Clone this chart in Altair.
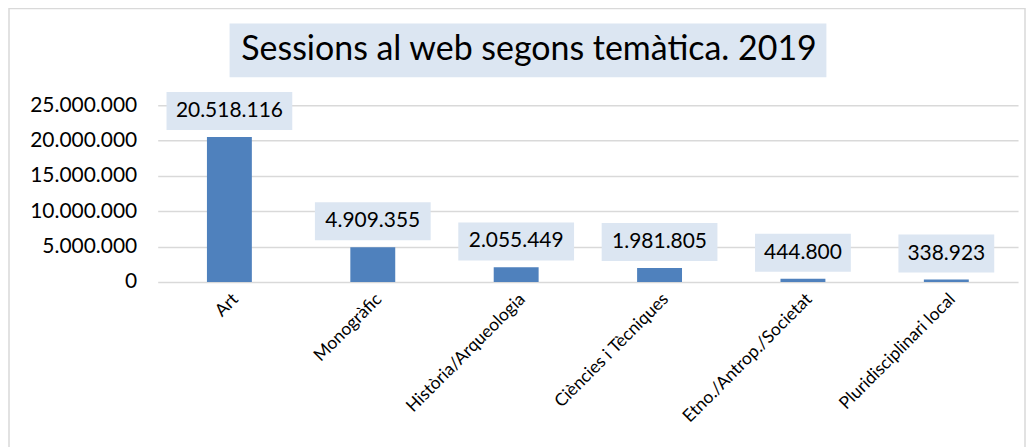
import altair as alt
import pandas as pd

categories = ["Art", "Monogràfic", "Història/Arqueologia", "Ciències i Tècniques",
              "Etno./Antrop./Societat", "Pluridisciplinari local"]
sessions = [20518116, 4909355, 2055449, 1981805, 444800, 338923]
y_ticks = [0, 5000000, 10000000, 15000000, 20000000, 25000000]
title_text = "Sessions al web segons temàtica. 2019"

df = pd.DataFrame({"cat": categories, "val": sessions})

FONT = "Lato"
BLUE = "#4F81BD"
BOXFILL = "#DCE6F2"

x_enc = alt.X("cat:N", sort=categories, title=None,
              scale=alt.Scale(paddingInner=0.6858, paddingOuter=0.3429),
              axis=alt.Axis(labelAngle=-45, labelFontSize=17.5, labelFont=FONT,
                            labelColor="#000000", ticks=False, domain=False,
                            grid=False, labelPadding=8, labelLimit=300))
y_enc = alt.Y("val:Q", title=None,
              scale=alt.Scale(domain=[0, 25000000], nice=False),
              axis=alt.Axis(values=y_ticks, format=",d", labelFontSize=21,
                            labelFont=FONT, labelColor="#000000", ticks=False,
                            domain=False, grid=True, gridColor="#D9D9D9",
                            gridWidth=1.5, labelPadding=21, labelOverlap=False))

base = alt.Chart(df)

bars = base.mark_bar(color=BLUE, size=45).encode(x=x_enc, y=y_enc)

lab = base.transform_calculate(
    lbl="format(datum.val, ',d')"
).transform_calculate(
    w="length(datum.lbl) * 10 + 26"
)

boxes = lab.mark_bar(color=BOXFILL, yOffset=-7, y2Offset=-45).encode(
    x=x_enc,
    y=y_enc,
    y2="val:Q",
    size=alt.Size("w:Q", scale=None, legend=None),
)

texts = lab.mark_text(font=FONT, fontSize=21, color="#000000", dy=-26,
                      baseline="middle").encode(
    x=x_enc,
    y=y_enc,
    text="lbl:N",
)

title_box = alt.Chart(pd.DataFrame({"t": [title_text]})).mark_rect(color=BOXFILL).encode(
    x=alt.value(72), x2=alt.value(670), y=alt.value(-82), y2=alt.value(-28))
title = alt.Chart(pd.DataFrame({"t": [title_text]})).mark_text(
    font=FONT, fontSize=34, color="#000000", baseline="middle", align="center").encode(
    x=alt.value(372), y=alt.value(-55), text="t:N")

border = alt.Chart(pd.DataFrame({"t": [0]})).mark_rect(
    fill=None, stroke="#D9D9D9", strokeWidth=1.5).encode(
    x=alt.value(-149), x2=alt.value(869), y=alt.value(-97), y2=alt.value(400))

chart = alt.layer(bars, boxes, texts, title_box, title, border).properties(
    width=862, height=177,
    autosize=alt.AutoSizeParams(type="none"),
    padding={"left": 150, "top": 97, "right": 9, "bottom": 165},
).configure(
    locale={"number": {"decimal": ",", "thousands": ".", "grouping": [3],
                       "currency": ["", "€"]}}
).configure_view(stroke=None)

chart.save("out.html", embed_options={"renderer": "svg", "actions": False})
